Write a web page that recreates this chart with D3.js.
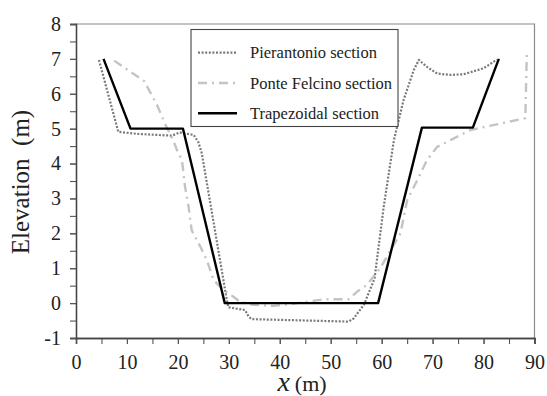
<!DOCTYPE html>
<html><head><meta charset="utf-8">
<script src="https://cdn.jsdelivr.net/npm/d3@7"></script>
<style>body{margin:0;background:#fff}svg{display:block}text{font-family:"Liberation Serif","Times New Roman",serif}</style>
</head><body>
<svg id="c" width="547" height="396"></svg>
<script>
const xTicks = [0,10,20,30,40,50,60,70,80,90];
const yTicks = [-1,0,1,2,3,4,5,6,7,8];
const seriesNames = ["Pierantonio section","Ponte Felcino section","Trapezoidal section"];

const pierX = [4.5, 8.3, 12.0, 18.8, 20.4, 23.1, 24.0, 24.7, 29.6, 29.9, 33.2, 33.9, 34.5, 53.5, 54.5, 56.5, 58.6, 60.4, 62.4, 64.3, 66.3, 67.3, 68.9, 70.9, 73.5, 76.1, 80.0, 82.0, 82.6];
const pierY = [6.97, 4.91, 4.85, 4.80, 4.89, 4.82, 4.62, 4.29, 0.09, -0.12, -0.20, -0.39, -0.46, -0.53, -0.44, -0.05, 0.70, 2.76, 4.67, 5.82, 6.68, 6.97, 6.77, 6.58, 6.54, 6.56, 6.73, 6.92, 6.98];

const pontX = [7.5, 13.4, 15.9, 17.6, 19.1, 19.8, 20.8, 21.4, 22.1, 22.7, 24.4, 25.7, 27.0, 28.6, 30.9, 32.2, 34.9, 38.8, 43.4, 48.6, 53.5, 55.2, 57.1, 59.7, 61.7, 63.7, 65.0, 67.0, 68.9, 70.9, 73.5, 77.4, 88.2, 88.5];
const pontY = [6.95, 6.36, 5.68, 5.10, 4.67, 4.39, 4.10, 3.34, 2.76, 2.09, 1.62, 1.23, 0.66, 0.42, 0.18, 0.04, -0.05, -0.08, 0.00, 0.11, 0.11, 0.33, 0.52, 1.00, 1.50, 2.00, 2.95, 3.53, 4.10, 4.48, 4.67, 4.96, 5.30, 7.25];

const trapX = [5.4, 10.7, 21.0, 29.2, 59.3, 67.9, 77.9, 83.0];
const trapY = [7.0, 5.0, 5.0, 0.0, 0.0, 5.03, 5.03, 7.0];

const svg = d3.select("#c");
const L = 76, R = 534.5, T = 24, B = 338;
const x = d3.scaleLinear().domain([0,90]).range([L,R]);
const y = d3.scaleLinear().domain([-1,8]).range([B,T]);
const font = '"Liberation Serif","Times New Roman",serif';

// frame top/right
svg.append("path").attr("d",`M${L},${T}H${R}V${B}`).attr("fill","none").attr("stroke","#8a8a8a").attr("stroke-width",1.2);

// minor ticks
const gx = svg.append("g").attr("transform",`translate(0,${B})`)
  .call(d3.axisBottom(x).tickValues(d3.range(0,91,5)).tickSize(6).tickFormat(""));
const gy = svg.append("g").attr("transform",`translate(${L},0)`)
  .call(d3.axisLeft(y).tickValues(d3.range(-1,8.01,0.5)).tickSize(6).tickFormat(""));
// major labels
const gx2 = svg.append("g").attr("transform",`translate(0,${B})`)
  .call(d3.axisBottom(x).tickValues(xTicks).tickSize(6).tickPadding(11).tickFormat(d=>String(d)));
const gy2 = svg.append("g").attr("transform",`translate(${L},0)`)
  .call(d3.axisLeft(y).tickValues(yTicks).tickSize(6).tickPadding(9).tickFormat(d=>String(d)));
[gx,gy,gx2,gy2].forEach(g=>{
  g.attr("font-family",null).attr("font-size",null);
  g.selectAll("path.domain").attr("stroke","#444").attr("stroke-width",1.3);
  g.selectAll(".tick line").attr("stroke","#555").attr("stroke-width",1.1);
  g.selectAll("text").style("font-family",font).style("font-size","20px").attr("fill","#222");
});

// labels
svg.append("text").attr("transform","translate(29,182) rotate(-90)").attr("text-anchor","middle")
  .style("font-family",font).style("font-size","25px").attr("fill","#222").style("white-space","pre").text("Elevation  (m)");
const xl = svg.append("text").attr("x",302).attr("y",391).attr("text-anchor","middle")
  .style("font-family",font).attr("fill","#222");
xl.append("tspan").style("font-style","italic").style("font-size","28px").text("x");
xl.append("tspan").style("font-size","22px").attr("dx",5).text("(m)");

// lines
const line = d3.line().x(d=>x(d[0])).y(d=>y(d[1]));
const styles = [
  {stroke:"#7a7a7a", w:2.2, dash:"2,1.6"},
  {stroke:"#c4c4c4", w:2.4, dash:"9,5,2,5"},
  {stroke:"#000", w:2.4, dash:null}
];
const data = [d3.zip(pierX,pierY), d3.zip(pontX,pontY), d3.zip(trapX,trapY)];
data.forEach((d,i)=>{
  svg.append("path").attr("d",line(d)).attr("fill","none")
    .attr("stroke",styles[i].stroke).attr("stroke-width",styles[i].w)
    .attr("stroke-dasharray",styles[i].dash).attr("stroke-linejoin","round");
});

// legend
svg.append("rect").attr("x",191).attr("y",29.5).attr("width",207).attr("height",97)
  .attr("fill","#fff").attr("stroke","#444").attr("stroke-width",1.1);
seriesNames.forEach((n,i)=>{
  const yy = 52.7 + i*30.3;
  svg.append("line").attr("x1",198).attr("x2",237).attr("y1",yy).attr("y2",yy)
    .attr("stroke",styles[i].stroke).attr("stroke-width",styles[i].w).attr("stroke-dasharray",styles[i].dash);
  svg.append("text").attr("x",250).attr("y",yy+5.5).style("font-family",font).style("font-size","16.5px")
    .attr("fill","#222").text(n);
});
</script>
</body></html>
